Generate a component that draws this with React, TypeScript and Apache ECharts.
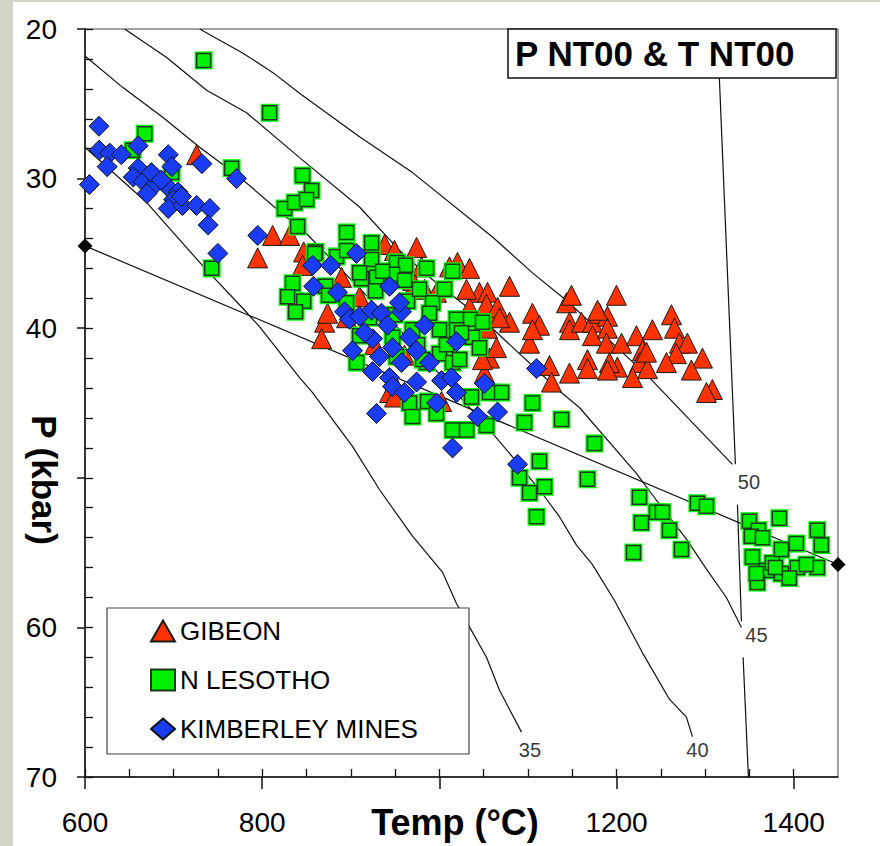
import React, { useEffect, useRef } from 'react';
import * as echarts from 'echarts';

const FONT = '"Liberation Sans", Arial, sans-serif';

const X_MAJOR = [600, 800, 1000, 1200, 1400];
const X_MINOR = [600, 650, 700, 750, 800, 850, 900, 950, 1000, 1050, 1100, 1150, 1200, 1250, 1300, 1350, 1400];
const Y_MAJOR = [20, 30, 40, 50, 60, 70];
const Y_MINOR = [20, 22, 24, 26, 28, 30, 32, 34, 36, 38, 40, 42, 44, 46, 48, 50, 52, 54, 56, 58, 60, 62, 64, 66, 68, 70];
const X_HIDDEN_LABELS = [1000];
const Y_HIDDEN_LABELS = [50];

const GIBEON: number[][] = [
  [726.0, 28.4], [811.8, 33.8], [831.0, 33.8], [794.9, 35.3], [846.8, 34.9], [845.6, 35.8], [870.5, 39.6], [867.1, 40.7],
  [889.6, 36.6], [938.2, 34.4], [949.4, 34.8], [974.3, 34.6], [979.9, 35.9], [1011.5, 35.9], [1020.5, 35.6], [1034.1, 36.0],
  [972.0, 37.1], [983.3, 37.4], [1045.3, 37.6], [1054.4, 37.6], [1034.1, 38.6], [1053.2, 38.4], [1062.3, 39.2], [1054.4, 40.0],
  [1056.6, 42.0], [1051.0, 43.0], [910.0, 37.9], [895.3, 39.3], [873.8, 39.0], [949.4, 43.7], [943.8, 44.3], [1002.5, 44.9],
  [1030.7, 37.4], [1079.2, 37.2], [1065.7, 38.6], [1079.2, 39.6], [1067.9, 39.3], [1064.5, 41.3], [1048.7, 42.1], [1101.8, 41.0],
  [1105.1, 39.0], [1113.0, 39.8], [1143.5, 38.3], [1146.9, 39.6], [1124.3, 42.5], [1126.6, 43.6], [1105.1, 40.1], [1149.1, 37.8],
  [1146.9, 40.1], [1199.9, 37.8], [1160.4, 39.6], [1172.8, 39.6], [1180.7, 39.0], [1189.8, 39.2], [1172.8, 40.5], [1189.8, 40.0],
  [1188.6, 41.0], [1205.6, 41.0], [1222.5, 40.5], [1240.5, 40.1], [1262.0, 39.1], [1265.4, 40.0], [1271.0, 41.0], [1280.0, 41.0],
  [1267.6, 41.7], [1256.3, 42.3], [1229.3, 41.5], [1225.9, 42.3], [1234.9, 42.7], [1218.0, 43.3], [1201.0, 42.6], [1192.0, 42.3],
  [1167.2, 42.1], [1167.2, 42.7], [1189.8, 42.8], [1146.9, 43.0], [1297.0, 42.0], [1284.5, 42.8], [1308.2, 44.1], [1301.5, 44.3],
  [1178.5, 38.8], [1233.8, 41.6], [949.4, 44.6], [969.7, 36.8], [996.8, 37.6], [926.9, 41.1], [960.7, 41.8],
];

const N_LESOTHO: number[][] = [
  [733.9, 22.1], [808.4, 25.6], [667.4, 27.0], [653.8, 28.1], [765.5, 29.3], [697.8, 29.6], [845.6, 29.8], [825.3, 32.0],
  [836.6, 31.6], [840.0, 33.2], [743.0, 36.0], [855.8, 30.8], [850.1, 31.4], [895.3, 33.6], [923.5, 34.3], [860.3, 34.9],
  [884.0, 35.2], [895.3, 34.8], [923.5, 35.4], [951.7, 35.6], [961.8, 35.8], [985.5, 36.0], [1014.9, 36.2], [834.3, 37.0],
  [828.7, 37.9], [846.8, 38.2], [837.7, 38.9], [871.6, 37.2], [875.0, 37.8], [912.2, 36.7], [929.1, 36.6], [928.0, 37.5],
  [947.2, 36.4], [964.1, 38.2], [992.3, 38.3], [988.9, 39.0], [1019.4, 39.4], [1035.2, 39.4], [1048.7, 39.6], [1019.4, 40.1],
  [1037.4, 40.6], [1045.3, 41.3], [1000.2, 41.7], [1014.9, 42.3], [985.5, 42.3], [906.6, 42.3], [947.2, 40.6], [969.7, 40.1],
  [951.7, 41.9], [895.3, 38.3], [910.0, 40.5], [1025.0, 40.3], [1022.8, 42.1], [981.0, 42.1], [1036.3, 44.6], [1056.6, 44.3],
  [1070.2, 44.3], [966.4, 45.0], [969.7, 45.9], [986.7, 44.9], [996.8, 45.7], [1014.9, 46.8], [1030.7, 46.8], [1053.2, 46.5],
  [1105.1, 45.0], [1096.1, 46.3], [1137.9, 46.1], [1113.0, 48.9], [1090.5, 50.0], [1118.7, 50.6], [1101.8, 51.0], [1109.7, 52.6],
  [1175.1, 47.7], [1167.2, 50.1], [1225.9, 51.3], [1228.1, 53.0], [1245.1, 52.3], [1251.8, 52.3], [1259.7, 53.5], [1219.1, 55.0],
  [1273.3, 54.8], [1291.3, 51.7], [1301.5, 51.9], [1350.0, 52.9], [1360.1, 53.5], [1383.8, 52.7], [1352.2, 53.9], [1364.7, 54.0],
  [1353.4, 55.3], [1369.2, 56.2], [1375.9, 55.7], [1386.1, 54.8], [1386.1, 56.4], [1403.0, 54.4], [1404.1, 56.0], [1395.1, 56.7],
  [1359.0, 57.0], [1357.9, 56.4], [1426.7, 53.5], [1431.2, 54.5], [1426.7, 56.0], [1414.3, 55.8], [1379.3, 56.0], [935.9, 36.2],
  [910.0, 36.3], [859.2, 35.0], [960.7, 36.8], [1005.8, 37.4], [977.6, 37.4], [949.4, 39.1], [1000.2, 40.1], [921.2, 39.3],
  [975.4, 41.1], [1008.1, 41.1],
];

const KIMBERLEY: number[][] = [
  [615.8, 26.5], [616.0, 28.1], [628.0, 28.3], [641.0, 28.4], [660.0, 27.8], [625.0, 29.2], [605.0, 30.4], [660.0, 29.3],
  [654.5, 29.9], [665.6, 30.2], [679.0, 30.4], [670.0, 31.0], [694.0, 28.4], [698.0, 29.2], [694.0, 30.6], [705.0, 30.9],
  [700.0, 31.4], [694.0, 32.0], [710.0, 31.8], [726.0, 31.8], [741.0, 32.0], [739.0, 33.1], [732.0, 29.0], [771.0, 30.0],
  [750.0, 35.0], [795.0, 33.8], [675.0, 29.6], [686.0, 30.1], [709.0, 31.2],
  [856.9, 35.8], [877.2, 35.8], [858.0, 37.2], [885.1, 37.6], [906.5, 35.0], [943.8, 37.2], [893.0, 38.9], [898.6, 39.4],
  [909.9, 39.2], [923.4, 38.8], [934.7, 39.0], [957.3, 38.9], [955.0, 38.3], [902.0, 41.5], [924.6, 40.7], [932.5, 41.9],
  [947.2, 41.3], [957.3, 42.3], [966.4, 40.6], [974.3, 41.5], [983.3, 39.8], [1019.4, 40.9], [924.6, 42.9], [943.8, 43.3],
  [947.2, 43.9], [974.3, 43.6], [1002.5, 43.5], [1013.8, 43.3], [1019.4, 44.3], [1051.0, 43.7], [996.9, 45.0], [1065.7, 45.6],
  [1043.2, 45.9], [929.1, 45.7], [1014.9, 48.0], [1109.7, 42.7], [1088.3, 49.1], [915.6, 40.3], [941.6, 39.8], [988.9, 42.3],
  [960.7, 44.3],
];

const CURVE_35: number[][] = [
  [600, 27.9], [669.7, 31.6], [706.9, 34.1], [734, 35.9], [780.2, 38.8], [797, 39.9], [842.2, 43.3], [856.9, 44.3],
  [902, 47.9], [932.5, 50.8], [969.7, 53.9], [1003.5, 56.3], [1019.3, 58.4], [1036.2, 60.2], [1053.2, 62.0], [1067.9, 64.2],
  [1092.7, 67.0],
];
const CURVE_40: number[][] = [
  [600, 21.8], [642.5, 23.9], [687.7, 25.9], [729.4, 27.9], [774.6, 29.9], [827.6, 32.6], [842.3, 33.2], [955, 40.1],
  [1056.7, 46.8], [1082.6, 48.6], [1113.1, 50.8], [1135.6, 52.6], [1154.8, 54.5], [1172.9, 55.8], [1197.7, 58.2],
  [1229.3, 61.7], [1259.7, 64.8], [1278.9, 66.0], [1285.7, 67.3],
];
const CURVE_45: number[][] = [
  [644.8, 20], [692.2, 21.9], [737.3, 24.1], [782.4, 25.6], [842.2, 28.6], [909.9, 31.9], [955, 34.8], [988.9, 36.6],
  [1048.7, 39.4], [1135.6, 44.2], [1158.1, 45.3], [1222.4, 49.7], [1245, 51.5], [1278.9, 54.1], [1301.5, 56.1], [1324, 58.0],
  [1341, 60.0],
];
const CURVE_50: number[][] = [
  [729.4, 20], [777.9, 21.6], [811.8, 22.9], [842.2, 24.3], [879.5, 25.9], [909.9, 27.2], [969.7, 29.6], [1060, 33.9],
  [1105.1, 36.3], [1144.6, 38.2], [1237.1, 43.3], [1330.8, 49.1],
];
const VERTICAL_A: number[][] = [[1316.1, 23.3], [1334.2, 49.1]];
const VERTICAL_B: number[][] = [[1336.5, 51.8], [1341.0, 59.6]];
const VERTICAL_C: number[][] = [[1342.9, 62.0], [1348.9, 70.0]];
const STRAIGHT_LINE: number[][] = [[600, 34.5], [1450, 55.8]];

const CURVE_LABELS = [
  { name: '50', value: [1349.4, 50.3] },
  { name: '45', value: [1357.9, 60.5] },
  { name: '40', value: [1291.3, 68.2] },
  { name: '35', value: [1102.3, 68.2] },
];

const TITLE = 'P NT00 & T NT00';
const X_NAME = 'Temp (°C)';
const Y_NAME = 'P (kbar)';

export default function App() {
  const ref = useRef<HTMLDivElement>(null);
  useEffect(() => {
    if (!ref.current) return;
    const chart = echarts.init(ref.current, null, { renderer: 'svg' });
    const lineSeries = (data: number[][]) => ({
      type: 'line',
      data,
      showSymbol: false,
      symbol: 'none',
      silent: true,
      z: 1,
      lineStyle: { color: '#111', width: 1.2 },
    });
    const option: any = {
      animation: false,
      backgroundColor: '#ffffff',
      grid: { left: 85, top: 29, right: 42, bottom: 69, show: true, borderColor: '#444', borderWidth: 1, backgroundColor: 'transparent' },
      xAxis: [
        {
          type: 'value', min: 600, max: 1450, position: 'bottom',
          axisLine: { show: true, lineStyle: { color: '#111', width: 1.5 } },
          axisTick: { show: true, customValues: X_MAJOR, length: 12, inside: false, lineStyle: { color: '#111', width: 1.5 } },
          axisLabel: {
            customValues: X_MAJOR, margin: 31, fontSize: 28, color: '#000', fontFamily: FONT,
            formatter: (v: number) => (X_HIDDEN_LABELS.includes(v) ? '' : String(v)),
          },
          splitLine: { show: false },
        },
        {
          type: 'value', min: 600, max: 1450, position: 'bottom',
          axisLine: { show: false },
          axisTick: { show: true, customValues: X_MINOR, length: 8, inside: true, lineStyle: { color: '#111', width: 1.3 } },
          axisLabel: { show: false },
          splitLine: { show: false },
        },
      ],
      yAxis: [
        {
          type: 'value', min: 20, max: 70, inverse: true, position: 'left',
          axisLine: { show: true, lineStyle: { color: '#111', width: 1.5 } },
          axisTick: { show: true, customValues: Y_MAJOR, length: 8, inside: false, lineStyle: { color: '#111', width: 1.5 } },
          axisLabel: {
            customValues: Y_MAJOR, margin: 28, fontSize: 28, color: '#000', fontFamily: FONT,
            formatter: (v: number) => (Y_HIDDEN_LABELS.includes(v) ? '' : String(v)),
          },
          splitLine: { show: false },
        },
        {
          type: 'value', min: 20, max: 70, inverse: true, position: 'left',
          axisLine: { show: false },
          axisTick: { show: true, customValues: Y_MINOR, length: 8, inside: true, lineStyle: { color: '#111', width: 1.3 } },
          axisLabel: { show: false },
          splitLine: { show: false },
        },
      ],
      legend: {
        show: true, orient: 'vertical', left: 145, top: 613, itemWidth: 24, itemHeight: 21, itemGap: 23, itemTextGap: 12,
        selectedMode: false, z: 10,
        textStyle: { fontSize: 26, color: '#000', fontFamily: FONT },
        data: ['GIBEON', 'N LESOTHO', 'KIMBERLEY MINES'],
      },
      series: [
        lineSeries(CURVE_35),
        lineSeries(CURVE_40),
        lineSeries(CURVE_45),
        lineSeries(CURVE_50),
        lineSeries(VERTICAL_A),
        lineSeries(VERTICAL_B),
        lineSeries(VERTICAL_C),
        {
          type: 'line', data: STRAIGHT_LINE, symbol: 'diamond', symbolSize: 15, showSymbol: true, clip: false, silent: true, z: 1,
          itemStyle: { color: '#000' }, lineStyle: { color: '#111', width: 1.2 },
        },
        {
          name: 'GIBEON', type: 'scatter', data: GIBEON, symbol: 'triangle', symbolSize: 20, z: 3,
          itemStyle: { color: '#ff3300', borderColor: '#1a1a1a', borderWidth: 1, opacity: 1 },
        },
        {
          name: 'N LESOTHO bg', type: 'scatter', data: N_LESOTHO, symbol: 'rect', symbolSize: 18, z: 3,
          itemStyle: { color: '#00ff00', opacity: 1 },
        },
        {
          name: 'N LESOTHO', type: 'scatter', data: N_LESOTHO, symbol: 'rect', symbolSize: 14, z: 3,
          itemStyle: { color: '#00ee00', borderColor: '#1c3a1c', borderWidth: 1.5, opacity: 1 },
        },
        {
          name: 'KIMBERLEY MINES', type: 'scatter', data: KIMBERLEY, symbol: 'diamond', symbolSize: 20, z: 3,
          itemStyle: { color: '#1a3cf5', borderColor: '#111', borderWidth: 1, opacity: 1 },
        },
        {
          type: 'scatter', data: CURVE_LABELS, symbolSize: 1, silent: true, z: 4,
          itemStyle: { color: 'rgba(0,0,0,0)' },
          label: { show: true, position: 'inside', formatter: (p: any) => p.name, fontSize: 20, color: '#000', fontFamily: FONT },
        },
      ],
      graphic: [
        { type: 'rect', z: 0, silent: true, shape: { x: 0, y: 0, width: 13, height: 846 }, style: { fill: '#d4d4c8' } },
        { type: 'rect', z: 0, silent: true, shape: { x: 0, y: 0, width: 880, height: 2 }, style: { fill: '#d4d4c8' } },
        { type: 'rect', z: 5, silent: true, shape: { x: 107, y: 608, width: 362, height: 146 }, style: { fill: '#fff', stroke: '#444', lineWidth: 1.2 } },
        { type: 'rect', z: 5, silent: true, shape: { x: 508, y: 29, width: 328, height: 49 }, style: { fill: '#fff', stroke: '#111', lineWidth: 1.5 } },
        {
          type: 'text', z: 6, silent: true, x: 515, y: 53,
          style: { text: TITLE, fontSize: 35, fontWeight: 'bold', fontFamily: FONT, fill: '#000', align: 'left', verticalAlign: 'middle' },
        },
        {
          type: 'text', z: 6, silent: true, x: 455, y: 822,
          style: { text: X_NAME, fontSize: 36, fontWeight: 'bold', fontFamily: FONT, fill: '#000', align: 'center', verticalAlign: 'middle' },
        },
        {
          type: 'text', z: 6, silent: true, x: 44, y: 480, rotation: -Math.PI / 2,
          style: { text: Y_NAME, fontSize: 35, fontWeight: 'bold', fontFamily: FONT, fill: '#000', align: 'center', verticalAlign: 'middle' },
        },
      ],
    };
    chart.setOption(option);
    return () => chart.dispose();
  }, []);
  return <div ref={ref} style={{ position: 'fixed', left: 0, top: 0, width: 880, height: 846 }} />;
}
